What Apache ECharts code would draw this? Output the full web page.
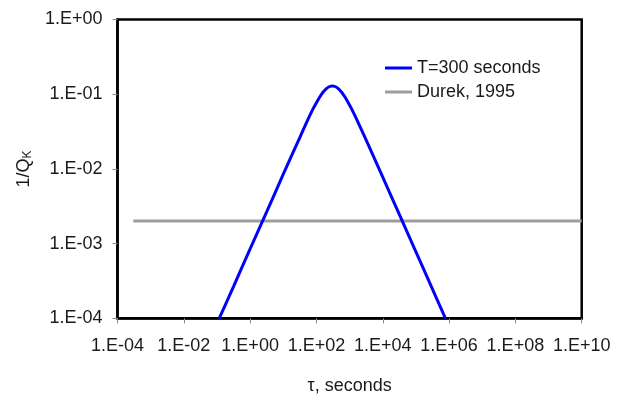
<!DOCTYPE html>
<html>
<head>
<meta charset="utf-8">
<script src="https://cdn.jsdelivr.net/npm/echarts@6/dist/echarts.min.js"></script>
<style>
html,body{margin:0;padding:0;background:#fff;}
#chart{width:624px;height:401px;}
</style>
</head>
<body>
<div id="chart"></div>
<script>
// tau (seconds) and 1/Q_K
const tauT300 = [0.117, 0.32, 1, 3.2, 10, 17.8, 32, 56, 79, 100, 126, 158, 200, 251, 302, 363, 457, 575, 724, 912, 1150, 1620, 2880, 5130, 9120, 28800, 91200, 288000, 776000];
const qT300   = [1.0e-4, 2.7e-4, 8.5e-4, 2.7e-3, 8.5e-3, 0.0151, 0.0267, 0.0464, 0.0635, 0.077, 0.0916, 0.1062, 0.1187, 0.1268, 0.129, 0.1268, 0.1187, 0.1062, 0.0916, 0.077, 0.0635, 0.0464, 0.0267, 0.0151, 8.5e-3, 2.7e-3, 8.5e-4, 2.7e-4, 1.0e-4];
const tauDurek = [3e-4, 1e10];
const qDurek   = [0.002, 0.002];
const seriesNames = ['T=300 seconds', 'Durek, 1995'];
const xTitle = 'τ, seconds';
const yTitle = '1/Q';
const ySub = 'K';

function fmtExp(v) {
  const e = Math.round(Math.log10(v));
  const a = Math.abs(e);
  return '1.E' + (e < 0 ? '-' : '+') + (a < 10 ? '0' + a : '' + a);
}
const pair = (xs, ys) => xs.map((x, i) => [x, ys[i]]);

const font = 'Liberation Sans, Arial, sans-serif';
const chart = echarts.init(document.getElementById('chart'), null, {renderer: 'canvas'});
chart.setOption({
  animation: false,
  backgroundColor: '#fff',
  grid: {left: 117.5, right: 42.3, top: 19.5, bottom: 82.7, show: true, borderColor: '#000', borderWidth: 2.5, backgroundColor: 'transparent'},
  legend: {
    orient: 'vertical', left: 385, top: 58, padding: 0, itemWidth: 27, itemHeight: 3, itemGap: 4,
    icon: 'rect',
    textStyle: {fontFamily: font, fontSize: 18, color: '#1a1a1a', lineHeight: 20},
    data: seriesNames
  },
  xAxis: {
    type: 'log', logBase: 10, min: 1e-4, max: 1e10, interval: 2,
    name: xTitle, nameLocation: 'middle', nameGap: 59,
    nameTextStyle: {fontFamily: font, fontSize: 18, color: '#1a1a1a'},
    axisLine: {show: true, lineStyle: {color: '#000', width: 2.5}},
    axisTick: {show: true, length: 5, lineStyle: {color: '#888', width: 1}},
    minorTick: {show: false},
    splitLine: {show: false},
    axisLabel: {formatter: fmtExp, fontFamily: font, fontSize: 18, color: '#1a1a1a', margin: 19}
  },
  yAxis: {
    type: 'log', logBase: 10, min: 1e-4, max: 1, interval: 1,
    name: yTitle + '{sub|' + ySub + '}', nameLocation: 'middle', nameGap: 80, nameRotate: 90,
    nameTextStyle: {fontFamily: font, fontSize: 18, color: '#1a1a1a', rich: {sub: {fontFamily: font, fontSize: 12, color: '#1a1a1a', verticalAlign: 'bottom', padding: [8, 0, 0, 0]}}},
    axisLine: {show: true, lineStyle: {color: '#000', width: 2.5}},
    axisTick: {show: true, length: 5, lineStyle: {color: '#888', width: 1}},
    minorTick: {show: false},
    splitLine: {show: false},
    axisLabel: {formatter: fmtExp, fontFamily: font, fontSize: 18, color: '#1a1a1a', margin: 15}
  },
  series: [
    {
      name: seriesNames[0], type: 'line', data: pair(tauT300, qT300),
      symbol: 'none', smooth: 0.3, lineStyle: {color: '#0000ff', width: 3}, itemStyle: {color: '#0000ff'}, z: 3
    },
    {
      name: seriesNames[1], type: 'line', data: pair(tauDurek, qDurek),
      symbol: 'none', lineStyle: {color: '#9e9e9e', width: 3}, itemStyle: {color: '#9e9e9e'}, z: 2
    }
  ]
});
</script>
</body>
</html>
